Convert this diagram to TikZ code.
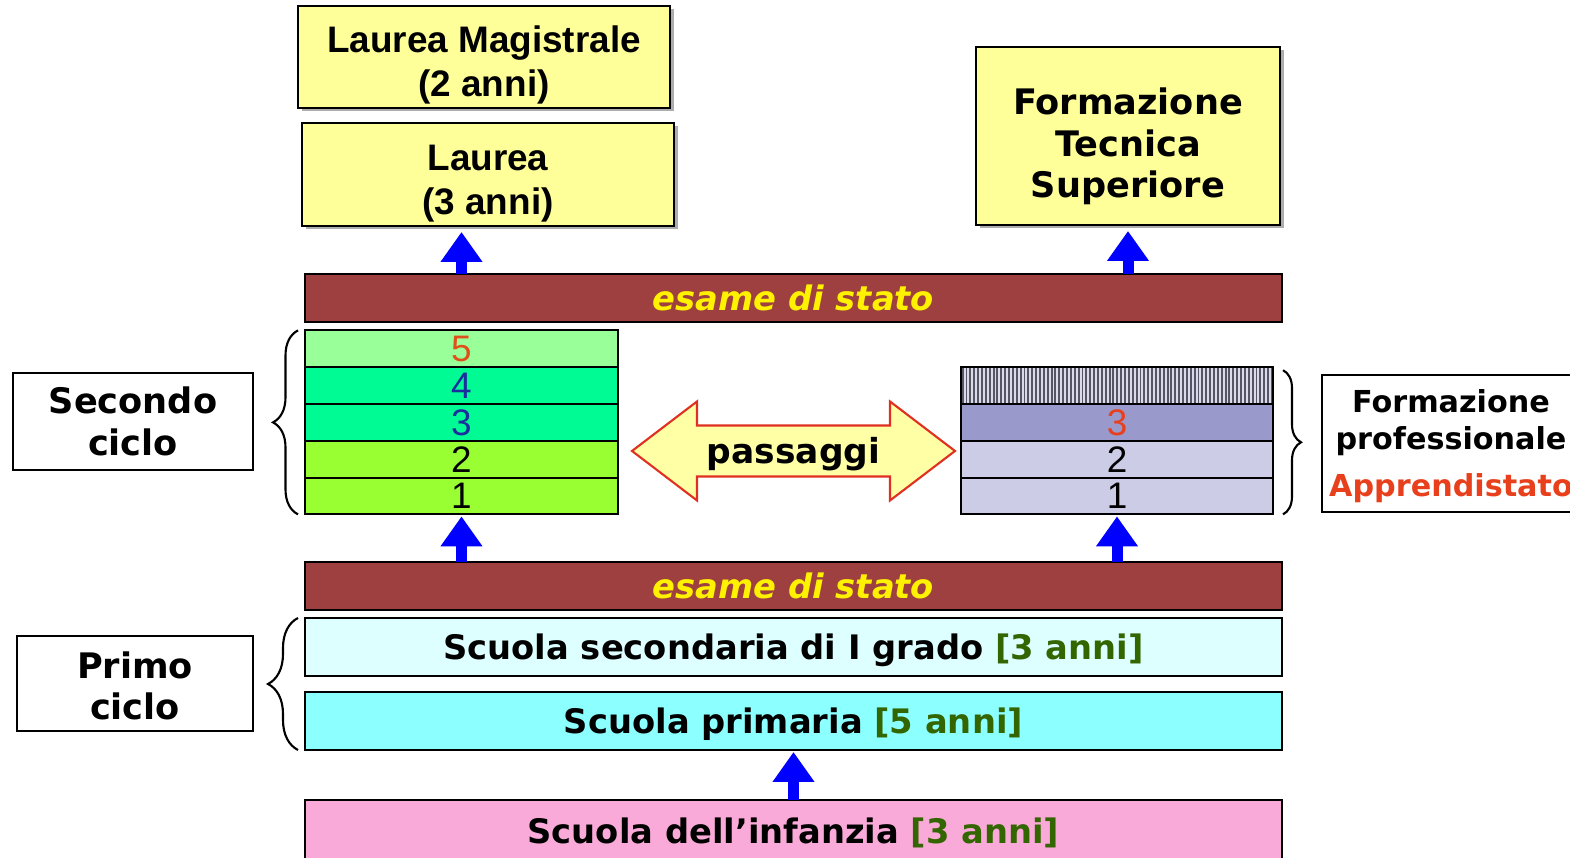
\documentclass[tikz,border=0pt]{standalone}
\usepackage{fontspec}
\setmainfont{DejaVu Sans}
\newfontfamily\arialfont{Liberation Sans}
\usepackage{tikz}
\usetikzlibrary{positioning,arrows.meta,decorations.pathreplacing,patterns.meta,shadows,calc}

\definecolor{boxyellow}{HTML}{FFFF99}
\definecolor{esamered}{HTML}{9E4040}
\definecolor{greenfive}{HTML}{99FF99}
\definecolor{greenmint}{HTML}{00FA94}
\definecolor{greenlime}{HTML}{99FF33}
\definecolor{numorange}{HTML}{E0501A}
\definecolor{numblue}{HTML}{1A2E9E}
\definecolor{numred}{HTML}{E8401C}
\definecolor{lavmid}{HTML}{9999CC}
\definecolor{lavlight}{HTML}{CCCCE6}
\definecolor{hatchbg}{HTML}{DADAE8}
\definecolor{hatchline}{HTML}{555566}
\definecolor{cyanpale}{HTML}{DDFFFF}
\definecolor{cyanbright}{HTML}{8CFFFF}
\definecolor{pinkbar}{HTML}{FAAAD8}
\definecolor{annigreen}{HTML}{336600}
\definecolor{passfill}{HTML}{FFFFA6}
\definecolor{passline}{HTML}{E03020}
\definecolor{arrowblue}{HTML}{0000FF}

% first line strut, pushes a block of lines down in its box
\newcommand{\lowline}[1]{\rule{0pt}{#1}}

\begin{document}
\begin{tikzpicture}[every path/.style={semithick},
    every node/.style={inner sep=0pt, outer sep=0pt, align=center},
    yellowbox/.style={draw, fill=boxyellow, minimum width=3.72cm, minimum height=1.02cm,
        font=\arialfont\bfseries\fontsize{10.5}{12.5}\selectfont,
        drop shadow={shadow xshift=1pt, shadow yshift=-1pt, fill=gray!80, opacity=0.8}},
    esame/.style={draw, fill=esamered, text=yellow, minimum width=9.77cm, minimum height=0.48cm,
        text height=7pt, text depth=0pt,
        font=\bfseries\itshape\fontsize{9.6}{11}\selectfont},
    schoolbar/.style={draw, minimum width=9.77cm, minimum height=0.58cm,
        text height=7pt, text depth=0pt,
        font=\bfseries\fontsize{9.6}{11}\selectfont},
    row/.style={draw, minimum width=3.13cm, minimum height=0.368cm,
        font=\arialfont\fontsize{10.5}{12}\selectfont},
    label/.style={draw, thick, fill=white, font=\bfseries\fontsize{10}{11.9}\selectfont},
    upar/.style={draw=arrowblue, line width=0.11cm, -{Triangle[length=0.3cm, width=0.4cm]}},
    brace/.style={decorate, decoration={brace, amplitude=0.25cm}, semithick},
    passarrow/.style={draw=passline, fill=passfill, semithick}]

    \useasboundingbox (0,0) rectangle (15.7,8.58);

    % universita e formazione tecnica
    \node[yellowbox] (magistrale) at (4.84,8.01) {\lowline{12pt}Laurea Magistrale\\(2 anni)};
    \node[yellowbox, minimum height=1.03cm] (laurea) at (4.88,6.835) {\lowline{12.6pt}Laurea\\(3 anni)};
    \node[yellowbox, minimum width=3.04cm, minimum height=1.78cm,
        font=\bfseries\fontsize{10}{11.9}\selectfont] (its) at (11.28,7.22) {\lowline{13.5pt}Formazione\\Tecnica\\Superiore};

    \node[esame] (esame1) at (7.935,5.60) {esame di stato};

    % secondo ciclo: licei e istituti
    \node[row, fill=greenlime] (s1) at (4.615,3.62) {1};
    \node[row, fill=greenlime, above=0pt of s1] (s2) {2};
    \node[row, fill=greenmint, text=numblue, above=0pt of s2] (s3) {3};
    \node[row, fill=greenmint, text=numblue, above=0pt of s3] (s4) {4};
    \node[row, fill=greenfive, text=numorange, above=0pt of s4] (s5) {5};

    % formazione professionale
    \node[row, minimum width=3.12cm, fill=lavlight] (f1) at (11.17,3.62) {1};
    \node[row, minimum width=3.12cm, fill=lavlight, above=0pt of f1] (f2) {2};
    \node[row, minimum width=3.12cm, fill=lavmid, text=numred, above=0pt of f2] (f3) {3};
    \node[row, minimum width=3.12cm, preaction={fill=hatchbg},
        pattern={Lines[angle=90, distance=1.1pt, line width=0.55pt]}, pattern color=hatchline,
        above=0pt of f3] (f0) {};

    \coordinate (pc) at (7.935,4.07);
    \draw[passarrow] (pc) ++(-1.615,0) -- ++(0.65,0.495) -- ++(0,-0.24) -- ++(1.93,0)
        -- ++(0,0.24) -- ++(0.65,-0.495) -- ++(-0.65,-0.495) -- ++(0,0.24)
        -- ++(-1.93,0) -- ++(0,-0.24) -- cycle;
    \node[font=\bfseries\fontsize{9.8}{11}\selectfont, text height=7.1pt, text depth=0pt] (pass) at (pc) {passaggi};

    % primo ciclo
    \node[esame] (esame2) at (7.935,2.72) {esame di stato};
    \node[schoolbar, fill=cyanpale] (secondaria) at (7.935,2.11) {Scuola secondaria di I grado {\color{annigreen}[3 anni]}};
    \node[schoolbar, fill=cyanbright] (primaria) at (7.935,1.37) {Scuola primaria {\color{annigreen}[5 anni]}};
    \node[schoolbar, fill=pinkbar, minimum height=0.62cm] (infanzia) at (7.935,0.27) {Scuola dell’infanzia {\color{annigreen}[3 anni]}};

    % etichette
    \node[label, minimum width=2.40cm, minimum height=0.97cm] (secondo) at (1.33,4.365) {Secondo\\ciclo};
    \node[label, minimum width=2.36cm, minimum height=0.95cm] (primo) at (1.35,1.745) {\lowline{9pt}Primo\\ciclo};
    \node[label, minimum width=2.58cm, minimum height=1.37cm,
        font=\bfseries\fontsize{8.6}{10.5}\selectfont] (formprof) at (14.51,4.145)
        {\lowline{8pt}Formazione\\professionale\\[3pt]{\color{numred}Apprendistato}};

    \draw[brace] ([xshift=-0.07cm]s1.south west) -- ([xshift=-0.07cm]s5.north west);
    \draw[brace, decoration={brace, amplitude=0.3cm}] ([xshift=-0.07cm]primaria.south west) -- ([xshift=-0.07cm]secondaria.north west);
    \draw[brace, decoration={brace, amplitude=0.18cm}] ([xshift=0.1cm,yshift=-0.03cm]f0.north east) -- ([xshift=0.1cm]f1.south east);

    % frecce
    \draw[upar] (esame1.north -| s5.north) -- ([yshift=-0.06cm]laurea.south -| s5.north);
    \draw[upar] (esame1.north -| its.south) -- ([yshift=-0.06cm]its.south);
    \draw[upar] (esame2.north -| s1.south) -- ([yshift=-0.02cm]s1.south);
    \draw[upar] (esame2.north -| f1.south) -- ([yshift=-0.02cm]f1.south);
    \draw[upar] (infanzia.north) -- ([yshift=-0.02cm]primaria.south);

\end{tikzpicture}
\end{document}
